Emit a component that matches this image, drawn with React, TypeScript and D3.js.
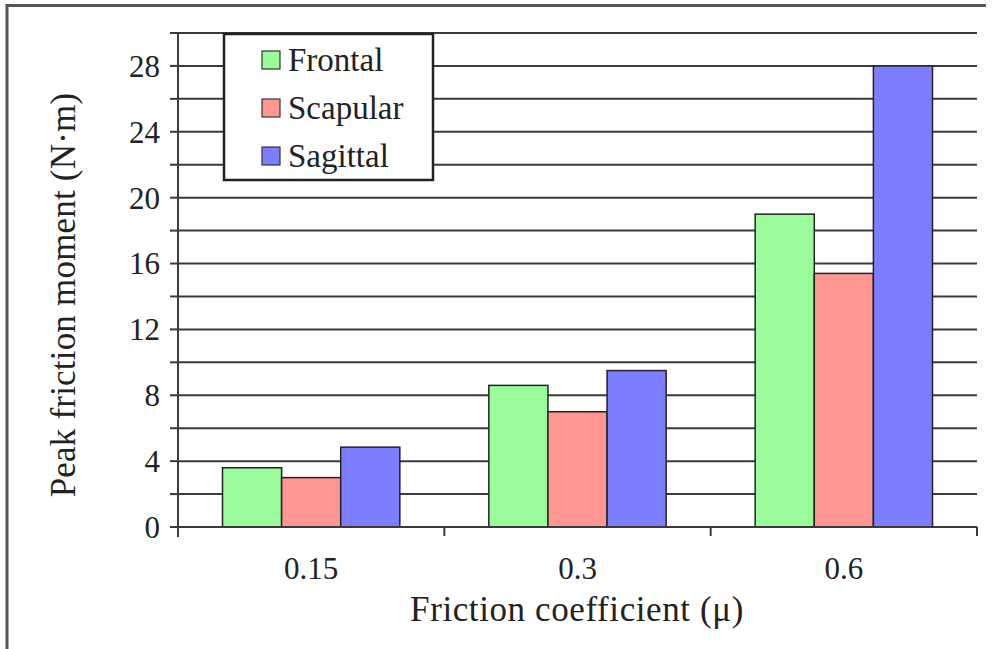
import React from "react";
import * as d3 from "d3";

const categories = ["0.15", "0.3", "0.6"];
const seriesNames = ["Frontal", "Scapular", "Sagittal"];
const frontal = [3.6, 8.6, 19.0];
const scapular = [3.0, 7.0, 15.4];
const sagittal = [4.85, 9.5, 28.0];
const seriesColors = ["#99fb99", "#ff9691", "#7d7dff"];
const yTickLabels = [0, 4, 8, 12, 16, 20, 24, 28];

const W = 993;
const H = 649;
const M = { left: 178, right: 977, top: 33, bottom: 527 };
const FONT = "'Liberation Serif', 'Times New Roman', serif";

export default function App() {
  const seriesValues = [frontal, scapular, sagittal];
  const x = d3.scaleBand<string>().domain(categories).range([M.left, M.right]).paddingInner(0).paddingOuter(0);
  const y = d3.scaleLinear().domain([0, 30]).range([M.bottom, M.top]);
  const groupPad = 44.5;
  const inner = d3
    .scaleBand<string>()
    .domain(seriesNames)
    .range([groupPad, x.bandwidth() - groupPad])
    .padding(0);
  const gridVals = d3.range(2, 31, 2);
  const minorTicks = d3.range(0, 31, 2);
  const xTickPos = [M.left, ...categories.map((c) => (x(c) as number) + x.bandwidth())];

  return (
    <svg width={W} height={H} style={{ position: "absolute", left: 0, top: 0, background: "#fff" }}>
      <rect x={0} y={0} width={W} height={H} fill="#fff" />
      {/* frame */}
      <line x1={7} x2={986} y1={5.5} y2={5.5} stroke="#555" strokeWidth={3} />
      <line x1={7} x2={7} y1={4} y2={H} stroke="#555" strokeWidth={3} />

      {/* gridlines */}
      {gridVals.map((v) => (
        <line key={"g" + v} x1={M.left} x2={M.right} y1={y(v)} y2={y(v)} stroke="#3a3a3a" strokeWidth={2} />
      ))}
      {/* y ticks */}
      {minorTicks.map((v) => (
        <line key={"t" + v} x1={M.left - 8} x2={M.left} y1={y(v)} y2={y(v)} stroke="#3a3a3a" strokeWidth={2} />
      ))}

      {/* bars */}
      {categories.map((c, ci) => (
        <g key={c} transform={`translate(${x(c)},0)`}>
          {seriesNames.map((s, si) => {
            const v = seriesValues[si][ci];
            return (
              <rect
                key={s}
                x={inner(s) as number}
                y={y(v)}
                width={inner.bandwidth()}
                height={y(0) - y(v)}
                fill={seriesColors[si]}
                stroke="#222"
                strokeWidth={1.5}
              />
            );
          })}
        </g>
      ))}

      {/* axes */}
      <line x1={M.left} x2={M.left} y1={M.top} y2={M.bottom + 10} stroke="#3a3a3a" strokeWidth={2} />
      <line x1={M.left - 8} x2={M.right} y1={M.bottom} y2={M.bottom} stroke="#3a3a3a" strokeWidth={2} />
      {xTickPos.map((p, i) => (
        <line key={"xt" + i} x1={p} x2={p} y1={M.bottom} y2={M.bottom + 9} stroke="#3a3a3a" strokeWidth={2} />
      ))}

      {/* y tick labels */}
      {yTickLabels.map((v) => (
        <text key={"yl" + v} x={160} y={y(v)} dy="0.35em" textAnchor="end" fontFamily={FONT} fontSize={31} fill="#222">
          {v}
        </text>
      ))}
      {/* x tick labels */}
      {categories.map((c) => (
        <text
          key={"xl" + c}
          x={(x(c) as number) + x.bandwidth() / 2}
          y={579}
          textAnchor="middle"
          fontFamily={FONT}
          fontSize={31}
          fill="#222"
        >
          {c}
        </text>
      ))}

      {/* axis titles */}
      <text x={577} y={621} textAnchor="middle" fontFamily={FONT} fontSize={35} letterSpacing={0.6} fill="#222">
        Friction coefficient (μ)
      </text>
      <text
        transform={`translate(75,${295}) rotate(-90)`}
        textAnchor="middle"
        fontFamily={FONT}
        fontSize={35}
        letterSpacing={0.2}
        fill="#222"
      >
        Peak friction moment (N·m)
      </text>

      {/* legend */}
      <rect x={224} y={34} width={209} height={146} fill="#fff" stroke="#222" strokeWidth={2.5} />
      {seriesNames.map((s, i) => (
        <g key={"lg" + s} transform={`translate(0,${60 + i * 48})`}>
          <rect x={262} y={-9} width={18} height={18} fill={seriesColors[i]} stroke="#333" strokeWidth={1.2} />
          <text x={288} y={0} dy="0.34em" fontFamily={FONT} fontSize={33} fill="#222">
            {s}
          </text>
        </g>
      ))}
    </svg>
  );
}
